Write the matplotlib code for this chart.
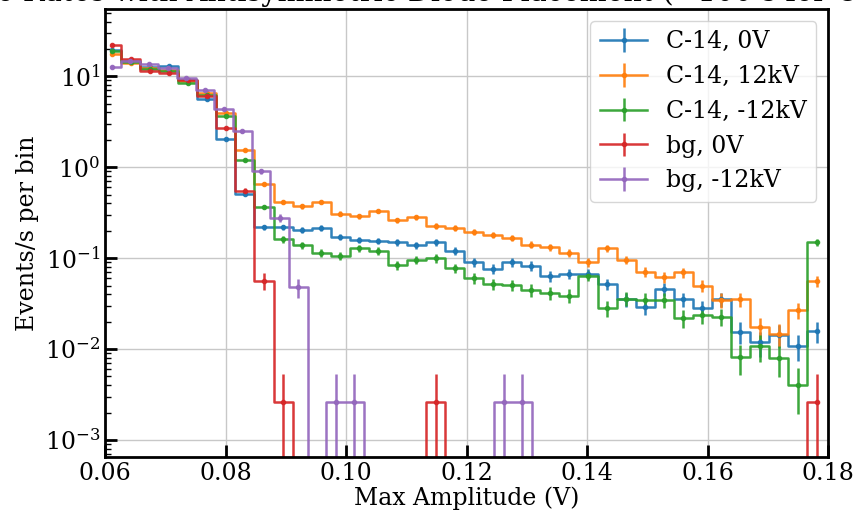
import numpy as np
import matplotlib
matplotlib.use('Agg')
import matplotlib.pyplot as plt

plt.rcParams['font.family'] = ['DejaVu Serif']
plt.rcParams['font.size'] = 17

# ---- data (rates in events/s per bin) ----
edges_main = np.linspace(0.0595, 0.1797, 39)
edges_bg_m12 = np.linspace(0.05956, 0.17732, 39)
T_c14 = 900.0   # live time (s) for C-14 runs
T_bg = 379.0    # live time (s) for background runs

c14_0V = [19.7, 14.6, 12.6, 12.9, 9.0, 5.6, 2.06, 0.507, 0.218, 0.218,
          0.205, 0.216, 0.171, 0.159, 0.155, 0.149, 0.138, 0.149, 0.121, 0.0905,
          0.0763, 0.0898, 0.0826, 0.063, 0.0673, 0.0673, 0.0518, 0.0354, 0.0294, 0.0457,
          0.0354, 0.0282, 0.0354, 0.0156, 0.0119, 0.0143, 0.0108, 0.0158]
c14_12kV = [17.8, 14.0, 12.3, 11.7, 8.8, 6.5, 3.9, 1.56, 0.653, 0.417,
            0.371, 0.417, 0.308, 0.290, 0.330, 0.260, 0.283, 0.226, 0.214, 0.193,
            0.179, 0.168, 0.141, 0.132, 0.114, 0.0905, 0.128, 0.0957, 0.0713, 0.0619,
            0.0701, 0.0495, 0.0347, 0.0353, 0.0174, 0.0147, 0.0270, 0.0563]
c14_m12kV = [18.8, 14.2, 12.0, 11.4, 8.5, 6.3, 3.7, 1.2, 0.365, 0.162,
             0.140, 0.114, 0.106, 0.129, 0.121, 0.0844, 0.0957, 0.100, 0.0777, 0.0603,
             0.0518, 0.0505, 0.0449, 0.0412, 0.0388, 0.064, 0.0282, 0.0360, 0.0347, 0.0347,
             0.0219, 0.0238, 0.0228, 0.00813, 0.0107, 0.00792, 0.00403, 0.149]
bg_0V = [21.9, 15.7, 11.4, 10.9, 9.2, 6.0, 2.72, 0.552, 0.0568, 0.00264,
         0, 0, 0, 0, 0, 0, 0, 0.00264, 0, 0,
         0, 0, 0, 0, 0, 0, 0, 0, 0, 0,
         0, 0, 0, 0, 0, 0, 0, 0.00264]
bg_m12kV = [12.7, 14.6, 13.8, 12.2, 9.6, 7.1, 4.4, 2.48, 0.90, 0.28,
            0.048, 0, 0.00264, 0.00264, 0, 0, 0, 0, 0, 0,
            0, 0.00264, 0.00264, 0, 0, 0, 0, 0, 0, 0,
            0, 0, 0, 0, 0, 0, 0, 0]

labels = ['C-14, 0V', 'C-14, 12kV', 'C-14, -12kV', 'bg, 0V', 'bg, -12kV']
values = [c14_0V, c14_12kV, c14_m12kV, bg_0V, bg_m12kV]
edges_list = [edges_main, edges_main, edges_main, edges_main, edges_bg_m12]
times = [T_c14, T_c14, T_c14, T_bg, T_bg]
colors = ['#1f77b4', '#ff7f0e', '#2ca02c', '#d62728', '#9467bd']

title_prefix = 'Puls'
title_core = 'e Rates with Antisymmetric Diode Placement (~100 s for C'
title_suffix = '-14 runs)'
title = title_prefix + title_core + title_suffix

W, H = 854, 517
fig = plt.figure(figsize=(W / 100, H / 100), dpi=100)
ax_left, ax_right = 0.123, 0.9696
ax = fig.add_axes([ax_left, 0.116, ax_right - ax_left, 0.9826 - 0.116])
ax.set_yscale('log')

for lab, vals, edges, T, col in zip(labels, values, edges_list, times, colors):
    centers = 0.5 * (edges[1:] + edges[:-1])
    r = np.asarray(vals, dtype=float)
    err = np.sqrt(r / T)
    ax.errorbar(centers, r, yerr=err, drawstyle='steps-mid', marker='.', ms=6,
                lw=1.8, elinewidth=1.8, color=col, label=lab, alpha=0.92)

ax.set_xlim(0.06, 0.18)
ax.set_ylim(6.5e-4, 55)
ax.set_xticks([0.06, 0.08, 0.10, 0.12, 0.14, 0.16, 0.18])
ax.set_xticklabels(['0.06', '0.08', '0.10', '0.12', '0.14', '0.16', '0.18'])
ax.grid(True, which='major', color='#c8c8c8', lw=1.0)
ax.set_axisbelow(True)
ax.tick_params(which='major', direction='in', length=8.5, width=2)
ax.tick_params(which='minor', direction='in', length=4, width=1)
for s in ax.spines.values():
    s.set_linewidth(2)

ax.set_xlabel('Max Amplitude (V)', labelpad=1)
ax.set_ylabel('Events/s per bin')
ax.legend(loc='upper right')

# size the (overflowing) title so its visible part spans the figure width like the reference
renderer = fig.canvas.get_renderer()
probe = fig.text(0, 0, title_core, fontsize=20)
w_core = probe.get_window_extent(renderer).width
probe.remove()
fs = 20 * 860 / w_core
probe = fig.text(0, 0, title_prefix, fontsize=fs)
w_pre = probe.get_window_extent(renderer).width
probe.remove()
ax_w_px = (ax_right - ax_left) * W
x_title = (-ax_left * W - w_pre - 3) / ax_w_px
ax.set_title(title, fontsize=fs, loc='left', x=x_title)

fig.savefig('out.png', dpi=100)
